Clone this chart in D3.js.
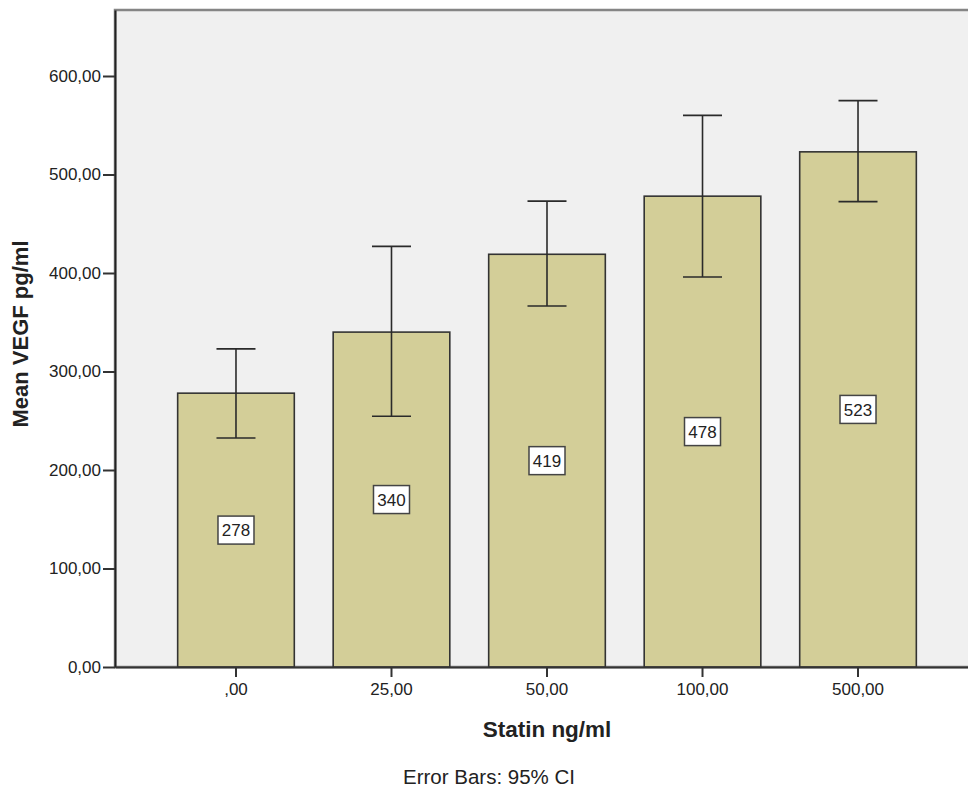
<!DOCTYPE html>
<html>
<head>
<meta charset="utf-8">
<script src="https://cdn.jsdelivr.net/npm/d3@7"></script>
<style>
  body { margin: 0; background: #fff; }
  text { font-family: "Liberation Sans", Arial, sans-serif; fill: #222; }
</style>
</head>
<body>
<div id="chart"></div>
<script>
// data
var categories = [",00", "25,00", "50,00", "100,00", "500,00"];
var means = [278, 340, 419, 478, 523];
var ciLow = [232.5, 254.5, 366.5, 396, 472.5];
var ciHigh = [323, 427, 473, 560, 575];
var yTicks = [0, 100, 200, 300, 400, 500, 600];

var W = 968, H = 792;
var plot = { left: 115, top: 10, right: 979, bottom: 667 };

var svg = d3.select("#chart")
    .append("svg")
    .attr("width", W)
    .attr("height", H);

var data = categories.map(function (c, i) {
    return { cat: c, mean: means[i], lo: ciLow[i], hi: ciHigh[i] };
});

var x = d3.scaleBand()
    .domain(categories)
    .range([plot.left, plot.right])
    .paddingInner(0.25)
    .paddingOuter(0.403);

var y = d3.scaleLinear()
    .domain([0, 667])
    .range([plot.bottom, plot.top]);

// plot background + frame
svg.append("rect")
    .attr("x", plot.left)
    .attr("y", plot.top)
    .attr("width", plot.right - plot.left)
    .attr("height", plot.bottom - plot.top)
    .attr("fill", "#f0f0f0")
    .attr("stroke", "#858585")
    .attr("stroke-width", 2.5);

// bars
svg.selectAll(".bar")
    .data(data)
    .enter()
    .append("rect")
    .attr("class", "bar")
    .attr("x", function (d) { return x(d.cat); })
    .attr("y", function (d) { return y(d.mean); })
    .attr("width", x.bandwidth())
    .attr("height", function (d) { return y(0) - y(d.mean); })
    .attr("fill", "#d3ce98")
    .attr("stroke", "#333")
    .attr("stroke-width", 1.6);

// error bars
var cap = 19.5;
var eb = svg.selectAll(".err")
    .data(data)
    .enter()
    .append("g")
    .attr("class", "err")
    .attr("stroke", "#2a2a2a")
    .attr("stroke-width", 1.6);
eb.append("line")
    .attr("x1", function (d) { return x(d.cat) + x.bandwidth() / 2; })
    .attr("x2", function (d) { return x(d.cat) + x.bandwidth() / 2; })
    .attr("y1", function (d) { return y(d.lo); })
    .attr("y2", function (d) { return y(d.hi); });
eb.append("line")
    .attr("x1", function (d) { return x(d.cat) + x.bandwidth() / 2 - cap; })
    .attr("x2", function (d) { return x(d.cat) + x.bandwidth() / 2 + cap; })
    .attr("y1", function (d) { return y(d.hi); })
    .attr("y2", function (d) { return y(d.hi); });
eb.append("line")
    .attr("x1", function (d) { return x(d.cat) + x.bandwidth() / 2 - cap; })
    .attr("x2", function (d) { return x(d.cat) + x.bandwidth() / 2 + cap; })
    .attr("y1", function (d) { return y(d.lo); })
    .attr("y2", function (d) { return y(d.lo); });

// value labels in boxes
var lab = svg.selectAll(".lab")
    .data(data)
    .enter()
    .append("g")
    .attr("class", "lab")
    .attr("transform", function (d) {
        return "translate(" + (x(d.cat) + x.bandwidth() / 2) + "," + y(d.mean / 2) + ")";
    });
lab.append("rect")
    .attr("x", -18)
    .attr("y", -14)
    .attr("width", 36)
    .attr("height", 28)
    .attr("fill", "#fff")
    .attr("stroke", "#444")
    .attr("stroke-width", 1.5);
lab.append("text")
    .attr("text-anchor", "middle")
    .attr("dy", "0.36em")
    .style("font-size", "17px")
    .text(function (d) { return d3.format("d")(d.mean); });

// axes
var yAxis = svg.append("g")
    .attr("transform", "translate(" + plot.left + ",0)")
    .call(d3.axisLeft(y)
        .tickValues(yTicks)
        .tickSize(12)
        .tickSizeOuter(0)
        .tickPadding(2)
        .tickFormat(function (d) { return d3.format(".2f")(d).replace(".", ","); }));
yAxis.select(".domain").attr("stroke", "#222").attr("stroke-width", 2);
yAxis.selectAll(".tick line").attr("stroke", "#333").attr("stroke-width", 2);
yAxis.selectAll("text").style("font-size", "17px").attr("fill", "#222");

var xAxis = svg.append("g")
    .attr("transform", "translate(0," + plot.bottom + ")")
    .call(d3.axisBottom(x).tickSize(10).tickSizeOuter(0).tickPadding(6));
xAxis.select(".domain").attr("stroke", "#333").attr("stroke-width", 2);
xAxis.selectAll(".tick line").attr("stroke", "#333").attr("stroke-width", 2);
xAxis.selectAll("text").style("font-size", "17px").attr("fill", "#222");

// titles
svg.append("text")
    .attr("x", (plot.left + plot.right) / 2)
    .attr("y", 737)
    .attr("text-anchor", "middle")
    .style("font-size", "22.5px")
    .style("font-weight", "bold")
    .text("Statin ng/ml");

svg.append("text")
    .attr("transform", "translate(28,334) rotate(-90)")
    .attr("text-anchor", "middle")
    .style("font-size", "22px")
    .style("font-weight", "bold")
    .text("Mean VEGF pg/ml");

svg.append("text")
    .attr("x", 489)
    .attr("y", 784)
    .attr("text-anchor", "middle")
    .style("font-size", "20.5px")
    .text("Error Bars: 95% CI");
</script>
</body>
</html>
